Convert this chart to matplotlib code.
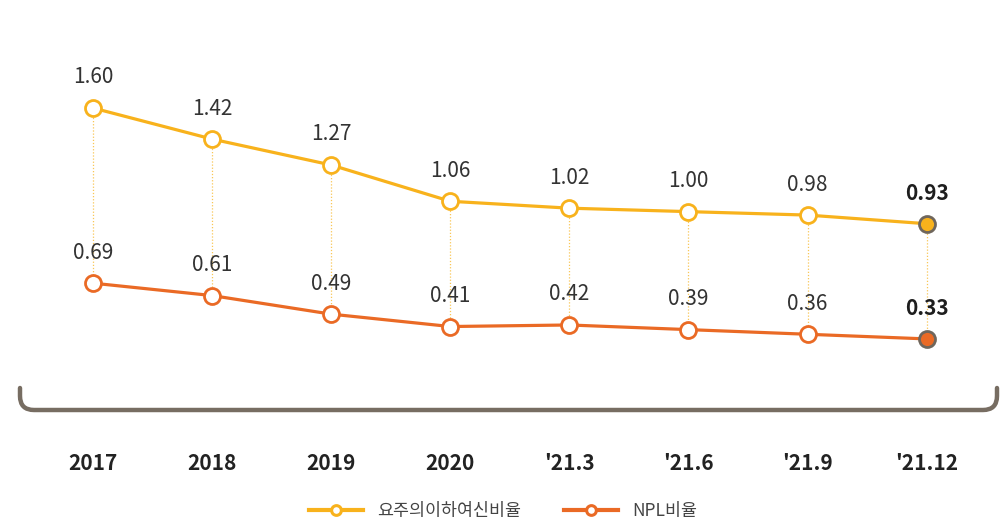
import matplotlib
matplotlib.use("Agg")
import matplotlib.pyplot as plt
from matplotlib.lines import Line2D
from matplotlib.path import Path
from matplotlib.patches import PathPatch

plt.rcParams['font.family'] = ['Noto Sans CJK KR', 'DejaVu Sans']

categories = ['2017', '2018', '2019', '2020', "'21.3", "'21.6", "'21.9", "'21.12"]
substd_ratio = [1.60, 1.42, 1.27, 1.06, 1.02, 1.00, 0.98, 0.93]
npl_ratio = [0.69, 0.61, 0.49, 0.41, 0.42, 0.39, 0.36, 0.33]
labels_series = ['요주의이하여신비율', 'NPL비율']

YEL = '#F8B21C'
ORG = '#EA6A25'
EDGE = '#6F665C'
BRK = '#776D62'

W, H = 1006, 525
fig = plt.figure(figsize=(W / 100, H / 100), dpi=100)
ax1 = fig.add_axes([0, 0, 1, 1])
ax2 = fig.add_axes([0, 0, 1, 1])
for a in (ax1, ax2):
    a.set_axis_off()
    a.set_xlim(-0.781, 7.666)
    a.patch.set_alpha(0)
ax1.set_ylim(-0.8145, 2.2254)
ax2.set_ylim(-0.8721, 2.5193)

x = list(range(len(categories)))
n = len(x)

def draw(ax, vals, color):
    ax.plot(x, vals, color=color, lw=2.3, zorder=3, solid_capstyle='round')
    ax.plot(x[:-1], vals[:-1], 'o', ms=11.5, mfc='white', mec=color, mew=2.0, zorder=4)
    ax.plot(x[-1:], vals[-1:], 'o', ms=11.5, mfc=color, mec=EDGE, mew=2.0, zorder=4)
    for i, v in enumerate(vals):
        last = i == n - 1
        ax.annotate(f'{v:.2f}', (i, v), xytext=(0, 22), textcoords='offset points',
                    ha='center', va='center', fontsize=15,
                    fontweight='bold' if last else 'normal',
                    color='#1e1e1e' if last else '#333333', zorder=5)

draw(ax1, substd_ratio, YEL)
draw(ax2, npl_ratio, ORG)

# dotted connectors between the two series (drawn beneath the markers)
inv = fig.transFigure.inverted()
fig.canvas.draw()
for i in x:
    p1 = inv.transform(ax1.transData.transform((i, substd_ratio[i])))
    p2 = inv.transform(ax2.transData.transform((i, npl_ratio[i])))
    ax1.add_line(Line2D([p1[0], p2[0]], [p1[1], p2[1]], transform=fig.transFigure,
                        color='#F9C757', lw=0.9, ls=(0, (1, 1.5)), zorder=1, clip_on=False))

# bracket
def fx(px):
    return px / W

def fy(py):
    return 1 - py / H

l, r, top, bot, rad = 20, 997, 388, 410, 14
verts = [(fx(l), fy(top)), (fx(l), fy(bot - rad)), (fx(l), fy(bot)), (fx(l + rad), fy(bot)),
         (fx(r - rad), fy(bot)), (fx(r), fy(bot)), (fx(r), fy(bot - rad)), (fx(r), fy(top))]
codes = [Path.MOVETO, Path.LINETO, Path.CURVE3, Path.CURVE3, Path.LINETO, Path.CURVE3, Path.CURVE3, Path.LINETO]
fig.add_artist(PathPatch(Path(verts, codes), transform=fig.transFigure, fill=False,
                         edgecolor=BRK, lw=3.2, capstyle='round', joinstyle='round'))

# category labels
for i, c in enumerate(categories):
    ax1.text(i, fy(463), c, transform=ax1.get_xaxis_transform(), ha='center', va='center',
             fontsize=15, fontweight='bold', color='#222222')

# legend
handles = [Line2D([], [], color=YEL, lw=3, marker='o', ms=7, mfc='white', mec=YEL, mew=2.2),
           Line2D([], [], color=ORG, lw=3, marker='o', ms=7, mfc='white', mec=ORG, mew=2.2)]
fig.legend(handles, labels_series, loc='center', bbox_to_anchor=(0.5, fy(511)), ncol=2,
           frameon=False, fontsize=12.5, handlelength=3.1, handletextpad=0.8, columnspacing=2.5,
           labelcolor='#444444')

fig.savefig('out.png', dpi=100)
